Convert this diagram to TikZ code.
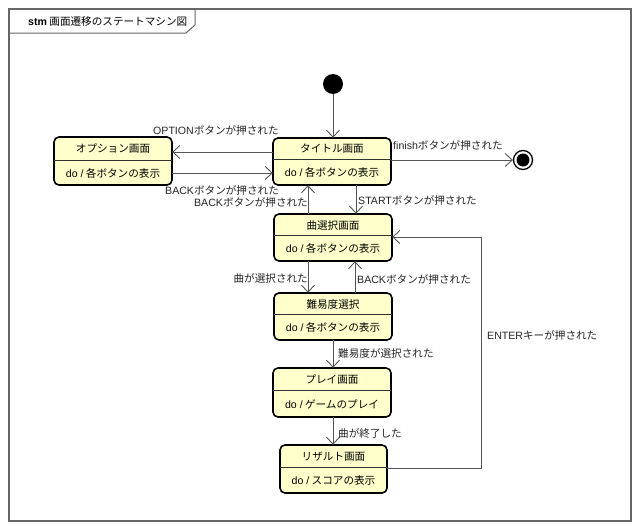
\documentclass[tikz,border=0pt]{standalone}
\usepackage{fontspec}
\setmainfont{Noto Sans CJK JP}
\newfontfamily\latf{Liberation Sans}
\usetikzlibrary{arrows.meta}
\definecolor{statefill}{HTML}{FFFFCC}
\definecolor{edgegray}{HTML}{555555}
\definecolor{framegray}{HTML}{666666}
\tikzset{
  stbox/.style={draw=black, line width=1.6pt, fill=statefill, rounded corners=5pt},
  divline/.style={draw=black!80, line width=0.6pt},
  sttext/.style={font=\fontsize{10.6}{12}\selectfont, inner sep=0pt},
  tr/.style={draw=edgegray, line width=0.9pt, -{Straight Barb[length=7pt,width=13pt,line width=0.9pt]}},
  lbl/.style={font=\fontsize{10.6}{12}\selectfont, inner sep=0pt, text=black!85},
}
\newcommand{\lt}[1]{{\latf #1}}
% \mkstate{name}{x1}{y1}{x2}{y2}{ydiv}{title}{activity}
\newcommand{\mkstate}[8]{%
  \path[stbox] (#2,#3) rectangle (#4,#5);
  \path (#2,#3) rectangle (#4,#5) node[pos=0.5, inner sep=0pt, minimum width={#4-#2}, minimum height={#5-#3}] (#1) {};
  \draw[divline] (#2,#6) -- (#4,#6);
  \node[sttext] (#1-name) at ({(#2+#4)/2},{(#3+#6)/2+0.5}) {#7};
  \node[sttext] (#1-do) at ({(#2+#4)/2},{(#6+#5)/2+0.5}) {\lt{do /} #8};
}
\begin{document}
\begin{tikzpicture}[x=1pt,y=-1pt]
\useasboundingbox (0,0) rectangle (640,530);
\fill[white] (0,0) rectangle (640,530);
% frame
\draw[framegray, line width=1.2pt] (9,9) rectangle (631,521);
\draw[framegray, line width=1pt] (9,33) -- (186,33) -- (195,25) -- (195,9);
\node[sttext, anchor=west] (frametitle) at (28,21) {\textbf{\lt{stm}} 画面遷移のステートマシン図};

% states
\mkstate{opt}{54}{137}{172}{185}{160}{オプション画面}{各ボタンの表示}
\mkstate{title}{273}{138}{391}{185}{159}{タイトル画面}{各ボタンの表示}
\mkstate{song}{274}{214}{392}{261}{235}{曲選択画面}{各ボタンの表示}
\mkstate{diff}{274}{293}{392}{340}{314}{難易度選択}{各ボタンの表示}
\mkstate{play}{273}{368}{391}{417}{390}{プレイ画面}{ゲームのプレイ}
\mkstate{result}{280}{445}{387}{493}{467}{リザルト画面}{スコアの表示}

% pseudo states
\node[circle, fill=black, minimum size=20pt, inner sep=0pt] (init) at (333,84) {};
\node[circle, draw=black, line width=1.3pt, fill=white, minimum size=19pt, inner sep=0pt] (final) at (523,160) {};
\node[circle, fill=black, minimum size=13pt, inner sep=0pt] (finalin) at (523,160) {};

% transitions
\draw[tr] (init) -- (title.north -| init);
\draw[tr] (title.west |- 0,152) -- (opt.east |- 0,152);
\draw[tr] (opt.east |- 0,173) -- (title.west |- 0,173);
\draw[tr] (title.east |- 0,160) -- (final.west);
\draw[tr] (title.south -| 356,0) -- (song.north -| 356,0);
\draw[tr] (song.north -| 308,0) -- (title.south -| 308,0);
\draw[tr] (song.south -| 308,0) -- (diff.north -| 308,0);
\draw[tr] (diff.north -| 355,0) -- (song.south -| 355,0);
\draw[tr] (diff.south -| 333,0) -- (play.north -| 333,0);
\draw[tr] (play.south -| 333,0) -- (result.north -| 333,0);
\coordinate (c1) at (481,468);
\coordinate (c2) at (481,237);
\draw[tr] (result.east |- c1) -- (c1) -- (c2) -- (song.east |- c2);

% labels
\node[lbl, anchor=west] (l1) at (153,130) {\lt{OPTION}ボタンが押された};
\node[lbl, anchor=west] (l2) at (165,190) {\lt{BACK}ボタンが押された};
\node[lbl, anchor=east] (l3) at (308,202) {\lt{BACK}ボタンが押された};
\node[lbl, anchor=west] (l4) at (393,145) {\lt{finish}ボタンが押された};
\node[lbl, anchor=west] (l5) at (358,200) {\lt{START}ボタンが押された};
\node[lbl, anchor=east] (l6) at (308,278) {曲が選択された};
\node[lbl, anchor=west] (l7) at (357,279) {\lt{BACK}ボタンが押された};
\node[lbl, anchor=west] (l8) at (338,353) {難易度が選択された};
\node[lbl, anchor=west] (l9) at (338,433) {曲が終了した};
\node[lbl, anchor=west] (l10) at (487,335) {\lt{ENTER}キーが押された};
\end{tikzpicture}
\end{document}
